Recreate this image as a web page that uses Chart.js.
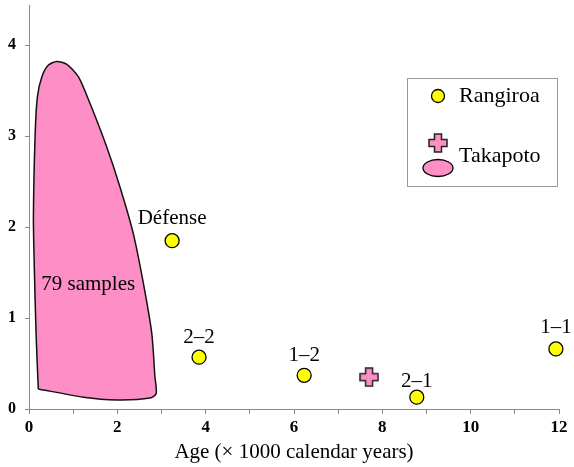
<!DOCTYPE html>
<html>
<head>
<meta charset="utf-8">
<script src="https://cdn.jsdelivr.net/npm/chart.js@4/dist/chart.umd.min.js"></script>
<style>
html,body{margin:0;padding:0;background:#fff;}
#wrap{width:574px;height:467px;}
</style>
</head>
<body>
<div id="wrap"><canvas id="c" width="574" height="467"></canvas></div>
<script>
// ---- data ----
const rangiroaNames = ['Défense', '2–2', '1–2', '2–1', '1–1'];
const rangiroaAge   = [3.24, 3.85, 6.23, 8.78, 11.93];
const rangiroaValue = [1.85, 0.57, 0.37, 0.13, 0.66];

const takapotoAge   = [7.7];
const takapotoValue = [0.35];

// outline of the Takapoto "79 samples" envelope (closed)
const envelopeAge   = [0.21, 0.16, 0.12, 0.10, 0.14, 0.19, 0.29, 0.44, 0.63, 0.85, 1.12, 1.38, 1.76, 2.06, 2.36, 2.59, 2.78, 2.85, 2.88, 2.74, 1.99, 1.23, 0.21];
const envelopeValue = [0.22, 0.83, 1.56, 2.11, 3.03, 3.43, 3.65, 3.78, 3.82, 3.79, 3.65, 3.36, 2.88, 2.44, 1.93, 1.38, 0.83, 0.36, 0.17, 0.12, 0.10, 0.13, 0.22];
const envelopeLabel = '79 samples';
const envelopeLabelPos = [1.34, 1.37];

const xTicks = [0, 2, 4, 6, 8, 10, 12];
const yTicks = [0, 1, 2, 3, 4];
const xTitle = 'Age (× 1000 calendar years)';
const legendNames = ['Rangiroa', 'Takapoto'];

// ---- styles ----
const PINK = '#fd8fc6';
const YELLOW = '#ffff00';
const SERIF = '"Liberation Serif", "DejaVu Serif", serif';
const labelOffsets = [22, 20, 20, 16, 21];

function makeCross(size, arm, fill) {
  const c = document.createElement('canvas');
  c.width = size; c.height = size;
  const g = c.getContext('2d');
  const a = (size - arm) / 2, b = a + arm, e = size - 1, s = 1;
  g.beginPath();
  g.moveTo(a, s); g.lineTo(b, s); g.lineTo(b, a); g.lineTo(e, a); g.lineTo(e, b);
  g.lineTo(b, b); g.lineTo(b, e); g.lineTo(a, e); g.lineTo(a, b); g.lineTo(s, b);
  g.lineTo(s, a); g.lineTo(a, a); g.closePath();
  g.fillStyle = fill; g.fill();
  g.lineWidth = 1.5; g.strokeStyle = '#222'; g.stroke();
  return c;
}
const crossImg = makeCross(20, 7, PINK);

const toPts = (xs, ys) => xs.map((x, i) => ({x: x, y: ys[i]}));

const labelPlugin = {
  id: 'labels',
  afterDatasetsDraw(chart) {
    const ctx = chart.ctx;
    const xs = chart.scales.x, ys = chart.scales.y;
    ctx.save();
    ctx.fillStyle = '#000';
    ctx.textAlign = 'center';
    ctx.textBaseline = 'middle';
    ctx.font = '21px ' + SERIF;
    rangiroaNames.forEach((n, i) => {
      ctx.fillText(n, xs.getPixelForValue(rangiroaAge[i]), ys.getPixelForValue(rangiroaValue[i]) - labelOffsets[i]);
    });
    ctx.fillText(envelopeLabel, xs.getPixelForValue(envelopeLabelPos[0]), ys.getPixelForValue(envelopeLabelPos[1]));
    ctx.restore();
  },
  afterDraw(chart) {
    const ctx = chart.ctx;
    ctx.save();
    // legend box
    ctx.strokeStyle = '#999';
    ctx.lineWidth = 1;
    ctx.strokeRect(407.5, 78.5, 150, 108);
    // Rangiroa symbol
    ctx.beginPath();
    ctx.arc(438, 96, 6.5, 0, Math.PI * 2);
    ctx.fillStyle = YELLOW; ctx.fill();
    ctx.strokeStyle = '#000'; ctx.lineWidth = 1.3; ctx.stroke();
    // Takapoto symbols
    ctx.drawImage(crossImg, 428, 133);
    ctx.beginPath();
    ctx.ellipse(438, 168, 15, 8.5, 0, 0, Math.PI * 2);
    ctx.fillStyle = PINK; ctx.fill();
    ctx.strokeStyle = '#000'; ctx.lineWidth = 1.3; ctx.stroke();
    ctx.fillStyle = '#000';
    ctx.font = '22px ' + SERIF;
    ctx.textAlign = 'left';
    ctx.textBaseline = 'middle';
    ctx.fillText(legendNames[0], 459, 96);
    ctx.fillText(legendNames[1], 459, 156);
    ctx.restore();
  }
};

new Chart(document.getElementById('c'), {
  type: 'scatter',
  data: {
    datasets: [
      {
        label: 'Rangiroa',
        data: toPts(rangiroaAge, rangiroaValue),
        pointRadius: 7,
        pointBackgroundColor: YELLOW,
        pointBorderColor: '#000',
        pointBorderWidth: 1.3,
        showLine: false,
        clip: false,
        order: 0
      },
      {
        label: 'Takapoto',
        data: toPts(takapotoAge, takapotoValue),
        pointStyle: crossImg,
        pointRadius: 10,
        showLine: false,
        clip: false,
        order: 0
      },
      {
        label: 'Takapoto envelope',
        data: toPts(envelopeAge, envelopeValue),
        showLine: true,
        fill: 'shape',
        backgroundColor: PINK,
        borderColor: '#111',
        borderWidth: 1.5,
        tension: 0.25,
        pointRadius: 0,
        clip: false,
        order: 2
      }
    ]
  },
  options: {
    responsive: false,
    animation: false,
    events: [],
    layout: { autoPadding: false, padding: { top: 5, right: 15, left: 0, bottom: 0 } },
    plugins: { legend: { display: false }, tooltip: { enabled: false } },
    scales: {
      x: {
        type: 'linear',
        min: 0, max: 12,
        afterFit(s) { s.height = 58; s.paddingLeft = 0; s.paddingRight = 0; },
        grid: { drawOnChartArea: false, drawTicks: true, tickLength: 5, color: '#888' },
        border: { color: '#888', width: 1 },
        ticks: {
          stepSize: 1,
          autoSkip: false,
          maxRotation: 0,
          includeBounds: false,
          padding: 3,
          color: '#000',
          font: { family: SERIF, size: 17, weight: 'bold' },
          callback: (v) => xTicks.includes(v) ? String(v) : ''
        },
        title: {
          display: true,
          text: xTitle,
          color: '#000',
          font: { family: SERIF, size: 21 },
          padding: { top: 0, bottom: 2 }
        }
      },
      y: {
        type: 'linear',
        min: 0, max: 4.44,
        afterFit(s) { s.width = 29; s.paddingTop = 0; s.paddingBottom = 0; },
        grid: { drawOnChartArea: false, drawTicks: true, tickLength: 4, color: '#888' },
        border: { color: '#888', width: 1 },
        ticks: {
          stepSize: 1,
          includeBounds: false,
          padding: 9,
          color: '#000',
          font: { family: SERIF, size: 16, weight: 'bold' },
          callback: (v) => yTicks.includes(v) ? String(v) : ''
        }
      }
    }
  },
  plugins: [labelPlugin]
});
</script>
</body>
</html>
